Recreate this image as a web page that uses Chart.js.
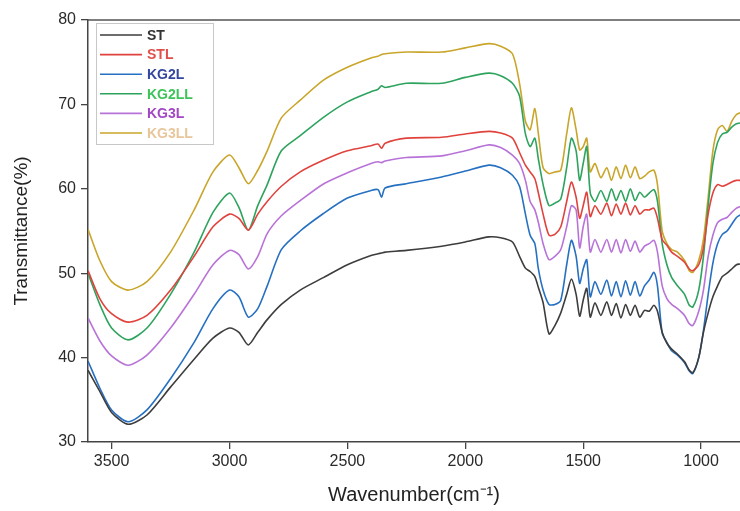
<!DOCTYPE html>
<html>
<head>
<meta charset="utf-8">
<script src="https://cdn.jsdelivr.net/npm/chart.js@4"></script>
<style>
  html, body { margin: 0; padding: 0; background: #fff; }
  #wrap { width: 740px; height: 511px; }
</style>
</head>
<body>
<div id="wrap"><canvas id="ftir"></canvas></div>
<script>
// FTIR spectra

const wavenumbers = [3600, 3550, 3500, 3430, 3350, 3250, 3150, 3070, 3000, 2960, 2920, 2880, 2840, 2780, 2700, 2600, 2500, 2400, 2370, 2355, 2340, 2250, 2100, 2000, 1900, 1850, 1800, 1770, 1745, 1725, 1705, 1690, 1670, 1645, 1620, 1595, 1570, 1550, 1530, 1515, 1500, 1485, 1470, 1450, 1425, 1400, 1380, 1360, 1340, 1320, 1300, 1280, 1260, 1240, 1220, 1200, 1185, 1165, 1145, 1125, 1100, 1070, 1050, 1035, 1010, 990, 970, 950, 930, 910, 890, 870, 850, 835];

const seriesNames = ['ST', 'STL', 'KG2L', 'KG2LL', 'KG3L', 'KG3LL'];

const st = [38.5, 36.0, 33.5, 32.1, 33.2, 36.5, 39.8, 42.3, 43.5, 43.0, 41.5, 43.0, 44.5, 46.3, 48.0, 49.5, 51.0, 52.1, 52.3, 52.4, 52.5, 52.7, 53.2, 53.7, 54.3, 54.2, 53.7, 52.0, 50.6, 50.2, 49.6, 48.3, 46.5, 42.8, 43.8, 45.3, 47.5, 49.3, 47.5, 44.9, 46.8, 48.2, 44.8, 46.5, 45.0, 46.6, 45.0, 46.4, 44.7, 46.3, 45.0, 46.2, 44.8, 45.6, 45.5, 46.2, 45.5, 43.0, 41.7, 41.0, 40.4, 39.5, 38.5, 38.2, 40.0, 43.0, 45.3, 47.2, 48.5, 49.6, 50.0, 50.5, 51.0, 51.1];

const stl = [50.3, 47.0, 45.2, 44.2, 45.0, 48.0, 52.0, 55.5, 57.0, 56.5, 55.1, 57.0, 58.5, 60.3, 62.0, 63.4, 64.5, 65.1, 65.3, 64.8, 65.4, 66.0, 66.1, 66.5, 66.8, 66.6, 66.0, 64.3, 62.8, 62.0, 61.2, 59.5, 57.0, 54.5, 54.6, 55.5, 58.5, 60.8, 59.0, 56.5, 58.0, 59.6, 56.7, 58.0, 57.0, 58.3, 56.8, 58.2, 57.0, 58.3, 56.9, 58.0, 57.0, 57.5, 57.5, 57.7, 56.5, 54.0, 53.3, 52.5, 52.0, 51.3, 50.5, 50.3, 51.0, 53.0, 57.0, 59.5, 60.5, 60.3, 60.5, 60.8, 61.0, 61.0];

const kg2l = [39.6, 36.4, 33.8, 32.4, 33.8, 37.5, 41.8, 45.8, 48.0, 47.2, 44.8, 45.8, 48.5, 52.8, 55.0, 57.1, 58.9, 59.8, 59.9, 59.0, 60.1, 60.6, 61.4, 62.1, 62.8, 62.5, 61.6, 60.3, 57.0, 54.5, 53.5, 50.5, 48.0, 46.3, 46.3, 46.8, 51.0, 53.9, 52.0, 48.8, 50.5, 51.6, 47.2, 49.0, 47.5, 49.2, 47.3, 49.0, 47.2, 49.1, 47.4, 49.0, 47.3, 48.5, 49.2, 50.1, 48.5, 42.9, 41.8, 40.8, 40.3, 39.4, 38.4, 38.1, 40.0, 43.2, 47.5, 51.2, 53.5, 54.6, 55.0, 55.8, 56.6, 56.9];

const kg2ll = [50.0, 46.3, 43.5, 42.1, 43.5, 47.5, 52.5, 57.2, 59.5, 57.8, 55.1, 58.0, 60.5, 64.5, 66.3, 68.5, 70.3, 71.5, 71.8, 72.2, 72.0, 72.5, 72.5, 73.2, 73.7, 73.4, 72.5, 71.0, 66.5, 65.0, 66.0, 63.5, 60.5, 58.0, 58.3, 58.8, 62.5, 66.0, 64.5, 61.0, 63.0, 65.0, 59.5, 58.5, 59.8, 58.5, 60.0, 58.6, 59.8, 58.5, 60.0, 58.6, 59.6, 59.0, 59.5, 59.9, 58.5, 53.5, 51.0, 49.5, 48.5, 47.5, 46.2, 46.0, 48.0, 52.0, 58.0, 63.0, 65.5, 66.5, 66.7, 67.3, 67.7, 67.8];

const kg3l = [44.7, 42.0, 40.2, 39.1, 40.3, 43.5, 47.5, 51.0, 52.7, 52.2, 50.5, 52.0, 54.7, 56.8, 58.6, 60.6, 61.9, 63.0, 63.2, 63.1, 63.3, 63.7, 63.9, 64.5, 65.2, 64.9, 64.0, 63.0, 61.0, 58.5, 57.5, 56.0, 53.5, 51.6, 52.0, 52.8, 55.5, 58.0, 57.5, 53.0, 55.5, 57.0, 52.5, 54.0, 52.5, 54.0, 52.5, 54.0, 52.4, 54.0, 52.6, 53.8, 52.5, 53.2, 53.5, 53.9, 52.5, 48.5, 47.0, 46.3, 45.8, 45.0, 44.0, 43.8, 45.5, 48.0, 52.0, 54.5, 56.0, 56.4, 56.6, 57.2, 57.7, 57.9];

const kg3ll = [55.2, 51.5, 49.0, 48.0, 49.0, 52.5, 57.5, 62.0, 64.0, 62.5, 60.6, 62.2, 64.5, 68.4, 70.5, 72.9, 74.4, 75.5, 75.7, 75.9, 76.0, 76.2, 76.2, 76.7, 77.2, 76.9, 76.0, 72.5, 68.0, 67.0, 69.5, 66.5, 62.5, 61.8, 62.0, 62.2, 66.5, 69.6, 67.0, 64.6, 65.0, 66.0, 62.0, 63.0, 61.3, 62.5, 61.0, 62.6, 61.2, 62.8, 61.3, 62.6, 61.2, 61.5, 62.0, 62.2, 60.5, 55.0, 53.5, 52.8, 52.5, 51.5, 50.3, 50.1, 51.5, 54.0, 59.0, 64.5, 67.0, 67.5, 66.8, 68.0, 68.8, 69.0];

const yTicks = [30, 40, 50, 60, 70, 80];
const xTicks = [3500, 3000, 2500, 2000, 1500, 1000];

const lineColors = ['#3d3d3d', '#e0433d', '#2670c2', '#2ea35e', '#b873d8', '#c9a52a'];
const textColors = ['#333333', '#e0504a', '#34479e', '#3cc45a', '#a246c4', '#e8c69a'];

const allSeries = [st, stl, kg2l, kg2ll, kg3l, kg3ll];

function toPoints(values) {
    return values.map((v, i) => ({ x: wavenumbers[i], y: v }));
}

const datasets = seriesNames.map((name, i) => ({
    label: name,
    data: toPoints(allSeries[i]),
    borderColor: lineColors[i],
    backgroundColor: lineColors[i],
    borderWidth: 1.6,
    pointRadius: 0,
    tension: 0.25,
    fill: false
}));

const fontFamily = '"Liberation Sans", Arial, sans-serif';

// frame on top + legend box inside the plot
const framePlugin = {
    id: 'frame',
    afterDraw(chart) {
        const { ctx, chartArea } = chart;
        ctx.save();
        ctx.strokeStyle = '#555';
        ctx.lineWidth = 1.5;
        ctx.beginPath();
        ctx.moveTo(chartArea.left, chartArea.top);
        ctx.lineTo(chartArea.right, chartArea.top);
        ctx.stroke();

        // legend
        const bx = 96, by = 23, bw = 117, bh = 121;
        ctx.fillStyle = 'rgba(255,255,255,0.9)';
        ctx.fillRect(bx, by, bw, bh);
        ctx.strokeStyle = '#c8c8c8';
        ctx.lineWidth = 1;
        ctx.strokeRect(bx + 0.5, by + 0.5, bw, bh);
        ctx.font = 'bold 14px ' + fontFamily;
        ctx.textBaseline = 'middle';
        chart.data.datasets.forEach((ds, i) => {
            const ry = by + 12 + i * 19.6;
            ctx.strokeStyle = ds.borderColor;
            ctx.lineWidth = 1.6;
            ctx.beginPath();
            ctx.moveTo(100, ry);
            ctx.lineTo(142, ry);
            ctx.stroke();
            ctx.fillStyle = textColors[i];
            ctx.fillText(ds.label, 147, ry + 1);
        });
        ctx.restore();
    }
};

new Chart(document.getElementById('ftir'), {
    type: 'line',
    data: { datasets: datasets },
    options: {
        responsive: true,
        maintainAspectRatio: false,
        animation: false,
        layout: { padding: { top: 20, right: 0, left: 0, bottom: 0 } },
        plugins: {
            legend: { display: false },
            tooltip: { enabled: false }
        },
        scales: {
            x: {
                type: 'linear',
                reverse: true,
                min: 835,
                max: 3600,
                afterBuildTicks: scale => {
                    scale.ticks = xTicks.map(v => ({ value: v }));
                },
                afterFit: scale => { scale.height = 69; },
                grid: { drawOnChartArea: false, drawTicks: true, tickLength: 7, color: '#444', lineWidth: 1.3 },
                border: { display: true, color: '#444', width: 1.5 },
                ticks: {
                    color: '#2a2a2a',
                    font: { size: 16, family: fontFamily },
                    padding: 3,
                    maxRotation: 0,
                    callback: v => String(v)
                },
                title: {
                    display: true,
                    text: 'Wavenumber(cm⁻¹)',
                    color: '#222',
                    font: { size: 20, family: fontFamily },
                    padding: { top: 5 }
                }
            },
            y: {
                min: 30,
                max: 80,
                afterBuildTicks: scale => {
                    scale.ticks = yTicks.map(v => ({ value: v }));
                },
                afterFit: scale => { scale.width = 88; },
                grid: { drawOnChartArea: false, drawTicks: true, tickLength: 7, color: '#444', lineWidth: 1.3 },
                border: { display: true, color: '#444', width: 1.5 },
                ticks: {
                    color: '#2a2a2a',
                    font: { size: 16, family: fontFamily },
                    padding: 5,
                    callback: v => String(v)
                },
                title: {
                    display: true,
                    text: 'Transmittance(%)',
                    color: '#222',
                    font: { size: 19, family: fontFamily },
                    padding: { top: 10, bottom: 0 }
                }
            }
        }
    },
    plugins: [framePlugin]
});
</script>
</body>
</html>
